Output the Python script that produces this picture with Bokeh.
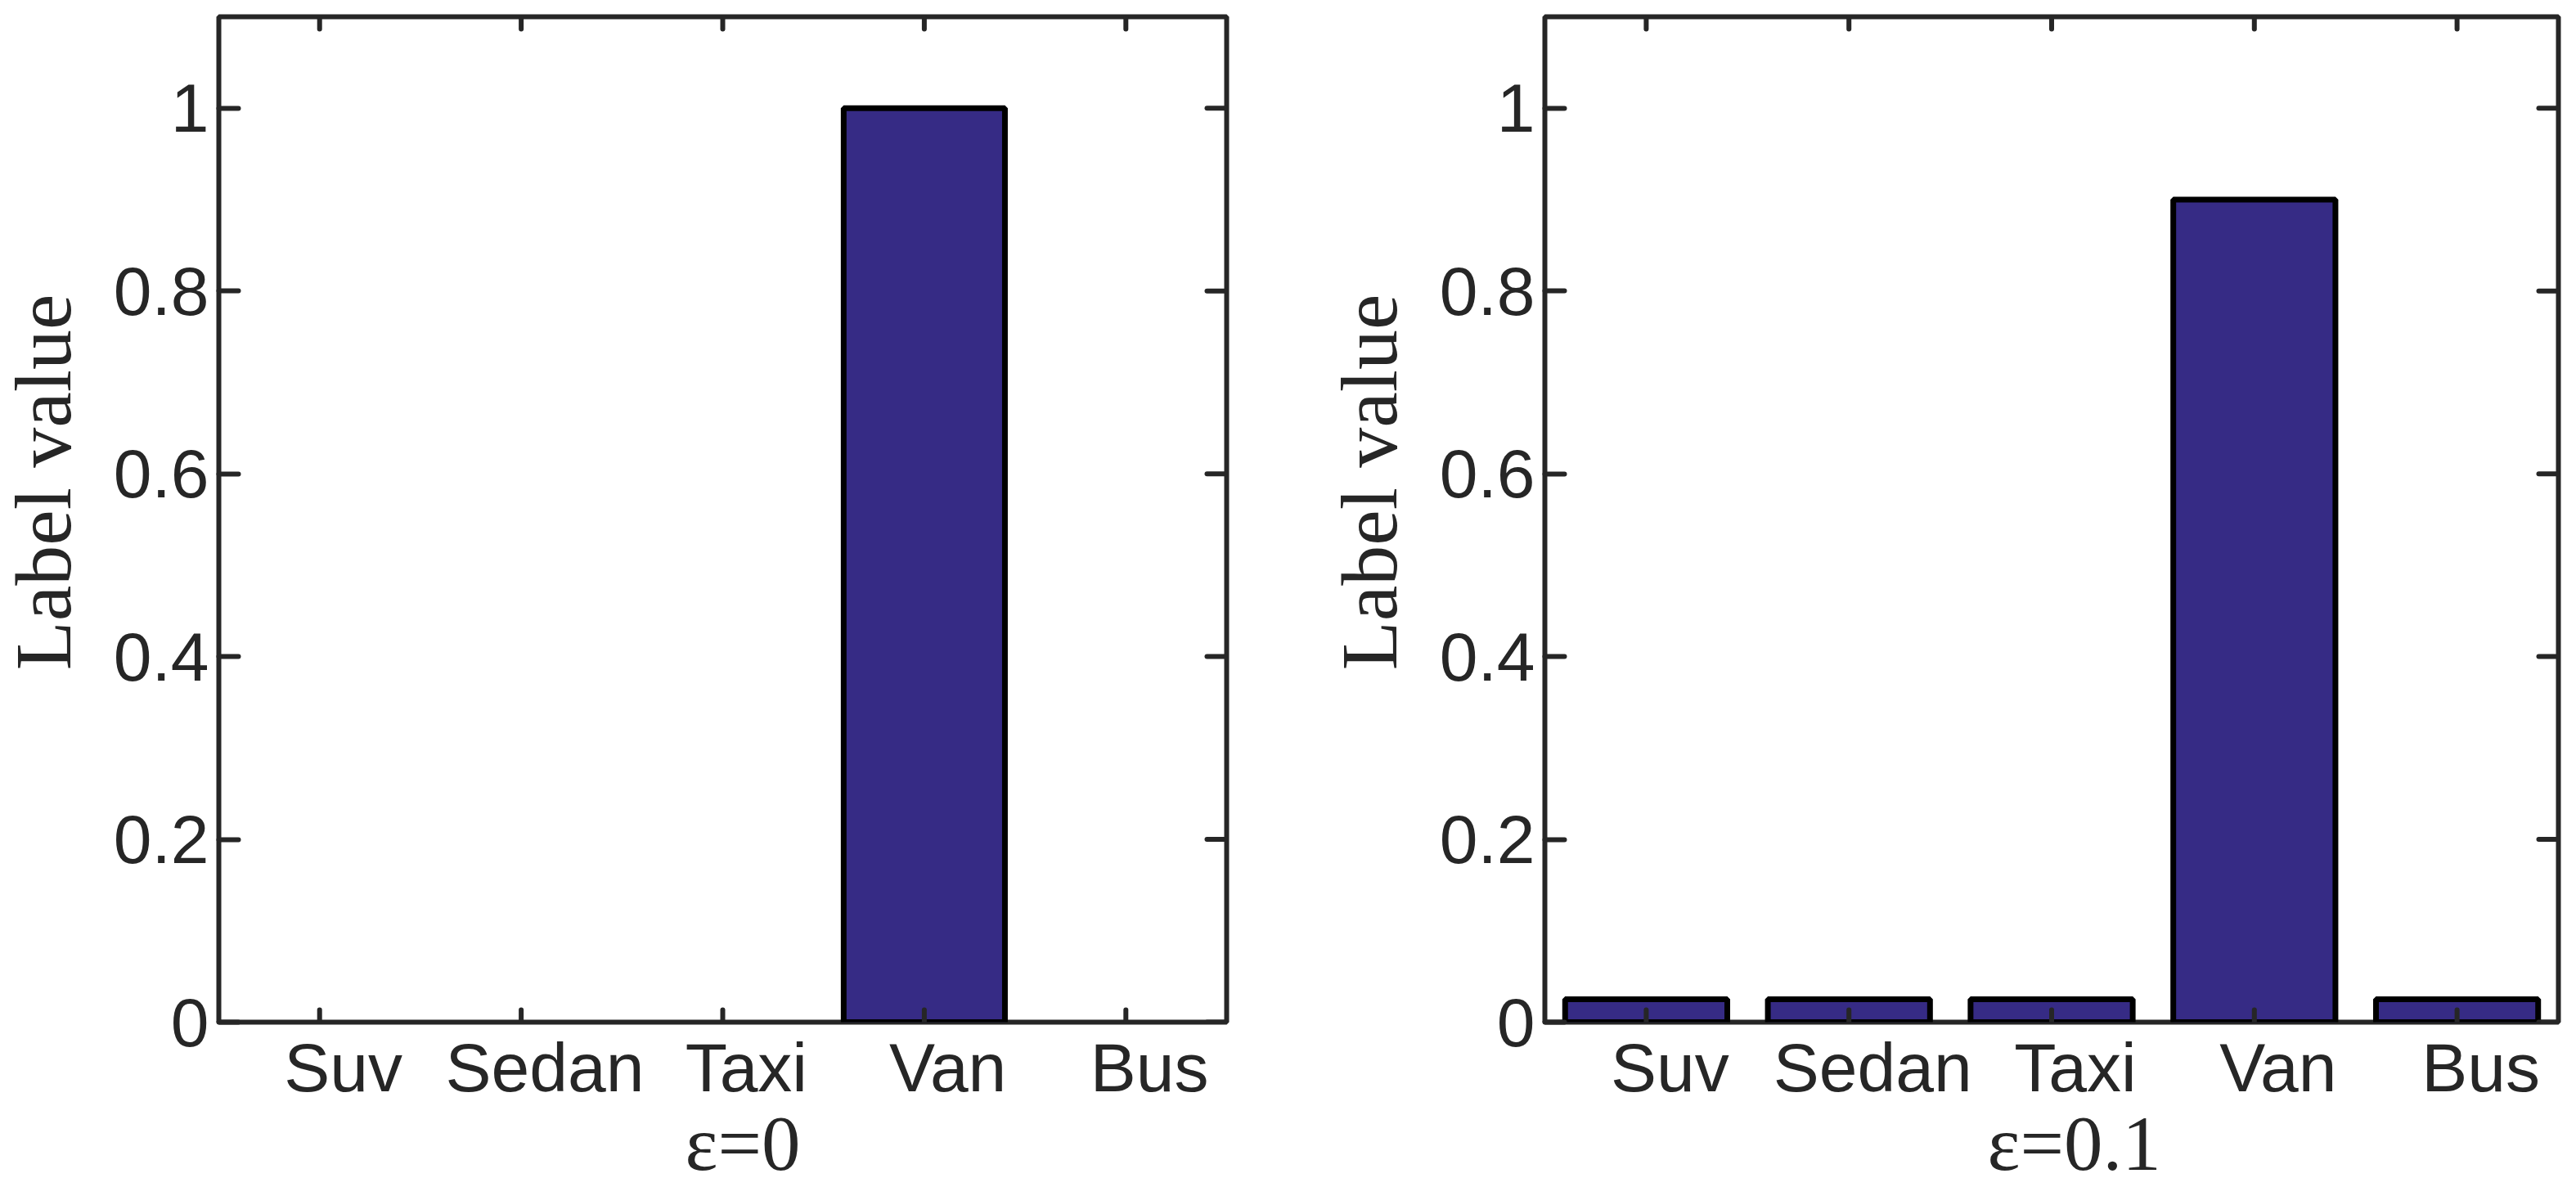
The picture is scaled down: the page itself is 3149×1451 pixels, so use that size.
from bokeh.plotting import figure
from bokeh.models import (Range1d, FixedTicker, LinearAxis, Title, CustomJSTickFormatter,
                          ColumnDataSource, CDSView, BooleanFilter)
from bokeh.core.properties import value
from bokeh.layouts import row
from bokeh.embed import file_html
from bokeh.resources import INLINE

# ---- data ----
categories = ["Suv", "Sedan", "Taxi", "Van", "Bus"]
positions = [1, 2, 3, 4, 5]
values_eps0 = [0.0, 0.0, 0.0, 1.0, 0.0]
values_eps01 = [0.025, 0.025, 0.025, 0.9, 0.025]
y_ticks = [0, 0.2, 0.4, 0.6, 0.8, 1.0]
x_limits = (0.5, 5.5)
y_limits = (0.0, 1.1)
panel_labels = ["ε=0", "ε=0.1"]
y_label = "Label value"

# ---- layout / style ----
PAGE_H = 1451
TOP = 20
FRAME_H = 1229
BOTTOM = PAGE_H - TOP - FRAME_H
AX = "#262626"
BAR = "#362B85"
SANS = "Liberation Sans"
SERIF = "Liberation Serif"


def ylabel_strip(strip_w, baseline_x, start_above_frame_bottom):
    """Narrow svg strip that holds the rotated y-axis title."""
    f = figure(width=strip_w, height=PAGE_H, x_range=Range1d(0, strip_w),
               y_range=Range1d(0, PAGE_H), x_axis_type=None, y_axis_type=None,
               output_backend="svg", toolbar_location=None, min_border=0)
    f.xgrid.visible = False
    f.ygrid.visible = False
    f.outline_line_color = None
    f.border_fill_color = "white"
    f.background_fill_color = "white"
    f.text(x=[baseline_x], y=[BOTTOM + start_above_frame_bottom], text=[y_label],
           angle=90, angle_units="deg", text_font=value(SERIF),
           text_font_size="98px", text_color=AX,
           text_align="left", text_baseline="alphabetic")
    return f


def make_panel(values, xlabel, frame_w, bl, br, xlabel_offset):
    p = figure(frame_width=frame_w, frame_height=FRAME_H,
               x_range=Range1d(*x_limits), y_range=Range1d(*y_limits),
               x_axis_type=None, y_axis_type=None,
               output_backend="svg", toolbar_location=None,
               min_border_left=bl, min_border_right=br,
               min_border_top=TOP, min_border_bottom=BOTTOM)
    p.xgrid.visible = False
    p.ygrid.visible = False
    p.background_fill_color = "white"
    p.border_fill_color = "white"
    p.outline_line_color = AX
    p.outline_line_width = 6
    p.outline_line_alpha = 1.0

    # label axis range, shifted as in the original export
    p.extra_x_ranges = {"lab": Range1d(x_limits[0] - 0.117, x_limits[1] - 0.117)}

    src = ColumnDataSource(dict(x=positions, top=values))
    view = CDSView(filter=BooleanFilter([v > 0 for v in values]))
    p.vbar(x="x", top="top", width=0.8, bottom=0, source=src, view=view,
           fill_color=BAR, line_color="black", line_width=7)

    # inward tick marks on bottom, top and right sides
    n = len(positions)
    tick_kw = dict(length_units="screen", angle_units="deg",
                   line_color=AX, line_width=6, line_cap="round")
    p.ray(x=positions, y=[y_limits[0]] * n, length=15, angle=90, **tick_kw)
    p.ray(x=positions, y=[y_limits[1]] * n, length=15, angle=-90, **tick_kw)
    m = len(y_ticks)
    p.ray(x=[x_limits[1]] * m, y=y_ticks, length=24, angle=180, **tick_kw)

    # bottom category labels
    bx = LinearAxis(x_range_name="lab")
    bx.ticker = FixedTicker(ticks=positions)
    bx.major_tick_in = 0
    bx.major_tick_out = 0
    bx.minor_tick_line_color = None
    bx.major_tick_line_color = None
    bx.axis_line_color = None
    bx.major_label_overrides = {pos: c for pos, c in zip(positions, categories)}
    bx.major_label_text_font = SANS
    bx.major_label_text_font_size = "84px"
    bx.major_label_text_color = AX
    bx.major_label_standoff = 8
    p.add_layout(bx, "below")

    # left axis with labels and inward ticks
    la = LinearAxis()
    la.ticker = FixedTicker(ticks=y_ticks)
    la.formatter = CustomJSTickFormatter(code="return tick.toFixed(1).replace(/\\.0$/, '');")
    la.major_tick_in = 24
    la.major_tick_out = 0
    la.minor_tick_line_color = None
    la.axis_line_color = None
    la.major_tick_line_color = AX
    la.major_tick_line_width = 6
    la.major_tick_line_cap = "round"
    la.major_label_text_font = SANS
    la.major_label_text_font_size = "84px"
    la.major_label_text_color = AX
    la.major_label_standoff = 12
    p.add_layout(la, "left")

    xt = Title(text=xlabel, align="left", offset=xlabel_offset, standoff=-24,
               text_font=SERIF, text_font_size="95px", text_font_style="normal",
               text_color=AX)
    p.add_layout(xt, "below")
    return p


yl1 = ylabel_strip(120, 52, 306)
p1 = make_panel(values_eps0, panel_labels[0], 1232, 267 - 120, 120, 570)
yl2 = ylabel_strip(130, 54, 306)
p2 = make_panel(values_eps01, panel_labels[1], 1239, 139, 22, 541)
layout = row(yl1, p1, yl2, p2, spacing=0)

open("out.html", "w").write(file_html(layout, INLINE))
